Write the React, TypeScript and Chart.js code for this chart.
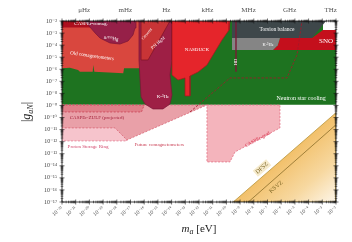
import React, { useEffect, useRef } from "react";
import { Chart, registerables } from "chart.js";

Chart.register(...registerables);

const SERIF = '"Liberation Serif", "DejaVu Serif", serif';

// ---- axes ----
const massExponents = [-22, -21, -20, -19, -18, -17, -16, -15, -14, -13, -12, -11, -10, -9, -8, -7, -6, -5, -4, -3, -2];
const couplingExponents = [-17, -16, -15, -14, -13, -12, -11, -10, -9, -8, -7, -6, -5, -4, -3, -2];
const freqLabels = ["μHz", "mHz", "Hz", "kHz", "MHz", "GHz", "THz"];
const freqMasses = [4.1357e-21, 4.1357e-18, 4.1357e-15, 4.1357e-12, 4.1357e-9, 4.1357e-6, 4.1357e-3];

// ---- regions: [log10(m_a / eV), log10 |g_aN|] ----
const neutronStarCooling = [[-22, -8.95], [-2, -8.95], [-2, -2.75], [-2.95, -2.75], [-2.95, -2], [-22, -2]];
const protonStorageRing = [[-22, -8.96], [-17.6, -8.96], [-17.26, -11.94], [-22, -11.94]];
const futureComagnetometers = [[-22, -8.96], [-11.42, -8.96], [-17.26, -11.86], [-18.13, -10.86], [-22, -10.86]];
const casperZulfProjected = [[-22, -8.96], [-16, -8.96], [-16.2, -9.54], [-22, -9.54]];
const casperGradient = [[-11.42, -8.96], [-6.09, -8.96], [-6.09, -10.86], [-9.37, -12.85], [-9.74, -13.68], [-11.42, -13.68]];
const oldComagnetometers = [[-22, -2], [-16.3, -2], [-16.3, -5.92], [-17.47, -5.92], [-17.53, -6.33], [-19.64, -6.2], [-19.72, -5.65], [-19.76, -6.2], [-20.69, -6.2], [-20.83, -6.06], [-21.42, -5.87], [-22, -5.92]];
const casperComag = [[-22, -2], [-18.13, -2], [-18.13, -2.54], [-22, -2.54]];
const nHg = [[-20.32, -2], [-19.96, -2.5], [-19.59, -2.99], [-19.23, -3.41], [-18.5, -3.82], [-17.77, -3.91], [-17.18, -3.66], [-16.82, -3.16], [-16.67, -2.58], [-16.6, -2]];
const k3He = [[-16.38, -2], [-13.97, -2], [-13.97, -5.23], [-14.12, -6.47], [-13.97, -8.13], [-14.12, -8.88], [-14.63, -9.29], [-15.36, -9.29], [-15.94, -8.88], [-16.23, -8.3], [-16.38, -5.23]];
const psiHgM = [[-16.23, -2], [-14.12, -2], [-15.72, -5.23], [-16.23, -5.23]];
const nasduck = [[-13.97, -2], [-9.74, -2], [-9.81, -2.75], [-10.32, -3.57], [-10.98, -4.82], [-11.42, -5.65], [-12.07, -6.23], [-12.66, -6.56], [-12.66, -8.21], [-12.95, -8.21], [-13.02, -6.72], [-13.53, -6.89], [-13.97, -6.47]];
const torsionBalance = [[-9.59, -2], [-2.73, -2], [-3.75, -3.41], [-9.59, -3.41]];
const sno = [[-6.09, -3.41], [-3.75, -3.41], [-2.95, -2.75], [-2, -2.75], [-2, -4.4], [-6.6, -4.4], [-6.25, -4.0]];
const k3HeSpin = [[-9.59, -3.41], [-6.09, -3.41], [-6.25, -4.0], [-6.6, -4.4], [-9.59, -4.4]];
const hdLine = [[-9.3, -2], [-9.3, -6.2]];
const projectionLine = [[-12.66, -9.54], [-9.74, -6.72], [-5.58, -6.72], [-4.85, -4.82], [-4.48, -2]];
const dfszBand = [[-9.5, -17], [-2, -9.6], [-2, -17]];
const ksvzLine = [[-8.4, -17], [-2, -10.6]];

// ---- text labels ----
const labels = [
  { text: "CASPEr-comag.", at: [-19.88, -2.25], color: "#fff", size: 5, rot: 0 },
  { text: "n/¹⁹⁹Hg", at: [-18.42, -3.45], color: "#fff", size: 5, rot: 8 },
  { text: "Old comagnetometers", at: [-19.81, -4.9], color: "#fff", size: 5, rot: 8 },
  { text: "Crescent", at: [-15.8, -3.08], color: "#fff", size: 4, rot: -50 },
  { text: "PSI HgM", at: [-14.99, -3.82], color: "#fff", size: 4.5, rot: -40 },
  { text: "K-³He", at: [-14.63, -8.3], color: "#fff", size: 5, rot: 0 },
  { text: "NASDUCK", at: [-12.15, -4.4], color: "#fff", size: 5, rot: 0 },
  { text: "Torsion balance", at: [-6.31, -2.75], color: "#fff", size: 5.5, rot: 0 },
  { text: "K-³He", at: [-6.96, -3.95], color: "#fff", size: 4.5, rot: 0 },
  { text: "SNO", at: [-2.73, -3.66], color: "#fff", size: 7, rot: 0 },
  { text: "HD", at: [-9.3, -5.4], color: "#fff", size: 4.5, rot: -90 },
  { text: "Neutron star cooling", at: [-4.55, -8.38], color: "#fff", size: 6, rot: 0 },
  { text: "CASPEr-ZULF (projected)", at: [-19.45, -10.04], color: "#a3203a", size: 5, rot: 0 },
  { text: "Proton Storage Ring", at: [-20.1, -12.44], color: "#d2456a", size: 5, rot: 0 },
  { text: "Future comagnetometers", at: [-14.9, -12.27], color: "#c83a50", size: 5, rot: 0 },
  { text: "CASPEr-grad.", at: [-7.69, -11.78], color: "#d9304a", size: 5, rot: -28 },
  { text: "DFSZ", at: [-7.4, -14.18], color: "#7a6220", size: 6, rot: -40.8, box: "#f6ebcd" },
  { text: "KSVZ", at: [-6.38, -15.75], color: "#7a6220", size: 6, rot: -40.8 },
];

const SUP: Record<string, string> = { "-": "⁻", "0": "⁰", "1": "¹", "2": "²", "3": "³", "4": "⁴", "5": "⁵", "6": "⁶", "7": "⁷", "8": "⁸", "9": "⁹" };
const pow10Label = (v: number) =>
  "10" + String(Math.round(Math.log10(v))).split("").map((c) => SUP[c] || c).join("");

const toXY = (pts: number[][]) => pts.map(([a, b]) => ({ x: Math.pow(10, a), y: Math.pow(10, b) }));

function region(pts: number[][], bg: any, border?: string, dashed?: boolean, bw = 0.7) {
  return {
    data: toXY([...pts, pts[0]]),
    backgroundColor: bg,
    borderColor: border || "rgba(0,0,0,0)",
    borderWidth: border ? bw : 0,
    borderDash: dashed ? [2, 1.5] : [],
    fill: "shape",
    pointRadius: 0,
    tension: 0,
  };
}
function line(pts: number[][], color: string, width: number, dashed?: boolean) {
  return {
    data: toXY(pts),
    backgroundColor: color,
    borderColor: color,
    borderWidth: width,
    borderDash: dashed ? [2.5, 1.5] : [],
    fill: false,
    pointRadius: 0,
    tension: 0,
  };
}

const orangeFill = (c: any) => {
  const ch = c.chart;
  if (!ch.chartArea || !ch.scales.x) return "#f2c06a";
  const x0 = ch.scales.x.getPixelForValue(Math.pow(10, -5.8));
  const y0 = ch.scales.y.getPixelForValue(Math.pow(10, -13.3));
  const g = ch.ctx.createLinearGradient(x0, y0, x0 + 0.654 * 72, y0 + 0.757 * 72);
  g.addColorStop(0, "#f2c06a");
  g.addColorStop(0.5, "#f7d8a0");
  g.addColorStop(1, "#fefaf3");
  return g;
};

function drawRich(ctx: CanvasRenderingContext2D, segs: { t: string; font: string; dy: number }[], x: number, y: number, rot: number) {
  ctx.save();
  ctx.translate(x, y);
  ctx.rotate(rot);
  ctx.fillStyle = "#222";
  ctx.textBaseline = "alphabetic";
  ctx.textAlign = "left";
  let total = 0;
  const ws = segs.map((s) => {
    ctx.font = s.font;
    const w = ctx.measureText(s.t).width;
    total += w;
    return w;
  });
  let cx = -total / 2;
  segs.forEach((s, i) => {
    ctx.font = s.font;
    ctx.fillText(s.t, cx, s.dy);
    cx += ws[i];
  });
  ctx.restore();
}

const overlay = {
  id: "overlay",
  afterDatasetsDraw(chart: any) {
    const { ctx, chartArea: a, scales } = chart;
    const x = scales.x, y = scales.y;
    ctx.save();
    // labels
    ctx.beginPath();
    ctx.rect(a.left, a.top, a.right - a.left, a.bottom - a.top);
    ctx.clip();
    for (const l of labels) {
      const px = x.getPixelForValue(Math.pow(10, l.at[0]));
      const py = y.getPixelForValue(Math.pow(10, l.at[1]));
      ctx.save();
      ctx.translate(px, py);
      ctx.rotate((l.rot * Math.PI) / 180);
      ctx.font = `${l.size}px ${SERIF}`;
      ctx.textAlign = "center";
      ctx.textBaseline = "middle";
      if (l.box) {
        const w = ctx.measureText(l.text).width;
        ctx.fillStyle = l.box;
        ctx.fillRect(-w / 2 - 1.5, -l.size / 2 - 1, w + 3, l.size + 2);
      }
      ctx.fillStyle = l.color;
      ctx.fillText(l.text, 0, 0);
      ctx.restore();
    }
    ctx.restore();

    // frame and ticks
    ctx.save();
    ctx.strokeStyle = "#111";
    ctx.lineWidth = 0.8;
    ctx.strokeRect(a.left, a.top, a.right - a.left, a.bottom - a.top);
    ctx.lineWidth = 0.6;
    ctx.beginPath();
    for (let e = massExponents[0]; e <= massExponents[massExponents.length - 1]; e++) {
      for (let k = 1; k < 10; k++) {
        if (e === massExponents[massExponents.length - 1] && k > 1) break;
        const px = x.getPixelForValue(k * Math.pow(10, e));
        const L = k === 1 ? 2.5 : 1.3;
        ctx.moveTo(px, a.bottom - L);
        ctx.lineTo(px, a.bottom + L);
        ctx.moveTo(px, a.top - L);
        ctx.lineTo(px, a.top + L);
      }
    }
    for (let e = couplingExponents[0]; e <= couplingExponents[couplingExponents.length - 1]; e++) {
      for (let k = 1; k < 10; k++) {
        if (e === couplingExponents[couplingExponents.length - 1] && k > 1) break;
        const py = y.getPixelForValue(k * Math.pow(10, e));
        const L = k === 1 ? 2.5 : 1.3;
        ctx.moveTo(a.left - L, py);
        ctx.lineTo(a.left + L, py);
        ctx.moveTo(a.right - L, py);
        ctx.lineTo(a.right + L, py);
      }
    }
    ctx.stroke();
    ctx.restore();

    // axis titles
    drawRich(
      ctx,
      [
        { t: "m", font: `italic 11px ${SERIF}`, dy: 0 },
        { t: "a", font: `italic 8px ${SERIF}`, dy: 2 },
        { t: " [eV]", font: `11px ${SERIF}`, dy: 0 },
      ],
      199,
      232,
      0
    );
    drawRich(
      ctx,
      [
        { t: "|", font: `12px ${SERIF}`, dy: 0 },
        { t: "g", font: `italic 12px ${SERIF}`, dy: 0 },
        { t: "aN", font: `italic 8px ${SERIF}`, dy: 2.5 },
        { t: "|", font: `12px ${SERIF}`, dy: 0 },
      ],
      30,
      112,
      -Math.PI / 2
    );
  },
};

export default function App() {
  const ref = useRef<HTMLCanvasElement>(null);
  useEffect(() => {
    if (!ref.current) return;
    const datasets: any[] = [
      region(neutronStarCooling, "#1e7320"),
      region(protonStorageRing, "#f6c4cc", "#e2738b", true),
      region(futureComagnetometers, "#e9a0a8", "#d65a6c", true),
      region(casperZulfProjected, "#e07f89", "#c73a4e", true),
      region(casperGradient, "#f4b4bc", "#e0647a", true),
      region(oldComagnetometers, "#d9473e"),
      region(casperComag, "#ad0f1e"),
      region(nHg, "#962048", "#7a1436"),
      region(k3He, "#9e1f45", "#7a1436"),
      region(psiHgM, "#c83436", "#7d1425"),
      region(nasduck, "#e5252b", "#a31820"),
      region(torsionBalance, "#3e474a"),
      region(sno, "#c40f1c"),
      region(k3HeSpin, "#858585"),
      line(hdLine, "#7a1a35", 1.4),
      line(projectionLine, "#a3182a", 0.8, true),
      region(dfszBand, orangeFill, "#b8943a", false, 0.8),
      line(ksvzLine, "#8a6d2a", 0.8),
    ];
    datasets.forEach((d, i) => (d.order = -i));

    const chart = new Chart(ref.current, {
      type: "line",
      data: { datasets },
      options: {
        responsive: false,
        animation: false,
        devicePixelRatio: 1,
        layout: { padding: { left: 0, right: 16, top: 0, bottom: 0 } },
        plugins: { legend: { display: false }, tooltip: { enabled: false } },
        scales: {
          x: {
            type: "logarithmic",
            position: "bottom",
            min: Math.pow(10, massExponents[0]),
            max: Math.pow(10, massExponents[massExponents.length - 1]),
            grid: { display: false, drawTicks: false },
            border: { display: false },
            afterBuildTicks: (s: any) => {
              s.ticks = massExponents.map((e) => ({ value: Math.pow(10, e) }));
            },
            afterFit: (s: any) => {
              s.height = 40;
            },
            ticks: {
              autoSkip: false,
              minRotation: 40,
              maxRotation: 40,
              padding: 3,
              color: "#444",
              font: { family: SERIF, size: 5.5 },
              callback: (v: any) => pow10Label(Number(v)),
            },
          },
          x2: {
            type: "logarithmic",
            position: "top",
            min: Math.pow(10, massExponents[0]),
            max: Math.pow(10, massExponents[massExponents.length - 1]),
            grid: { display: false, drawTicks: false },
            border: { display: false },
            afterBuildTicks: (s: any) => {
              s.ticks = freqMasses.map((v) => ({ value: v }));
            },
            afterFit: (s: any) => {
              s.height = 21;
            },
            ticks: {
              autoSkip: false,
              maxRotation: 0,
              minRotation: 0,
              padding: 7,
              color: "#555",
              font: { family: SERIF, size: 7 },
              callback: (_v: any, i: number) => freqLabels[i],
            },
          },
          y: {
            type: "logarithmic",
            position: "left",
            min: Math.pow(10, couplingExponents[0]),
            max: Math.pow(10, couplingExponents[couplingExponents.length - 1]),
            grid: { display: false, drawTicks: false },
            border: { display: false },
            afterBuildTicks: (s: any) => {
              s.ticks = couplingExponents.map((e) => ({ value: Math.pow(10, e) }));
            },
            afterFit: (s: any) => {
              s.width = 62;
            },
            ticks: {
              autoSkip: false,
              padding: 5,
              color: "#444",
              font: { family: SERIF, size: 6 },
              callback: (v: any) => pow10Label(Number(v)),
            },
          },
        },
      } as any,
      plugins: [overlay],
    });
    return () => chart.destroy();
  }, []);

  return (
    <div style={{ position: "fixed", left: 0, top: 0, width: 352, height: 242, background: "#fff" }}>
      <canvas ref={ref} width={352} height={242} style={{ display: "block" }} />
    </div>
  );
}
